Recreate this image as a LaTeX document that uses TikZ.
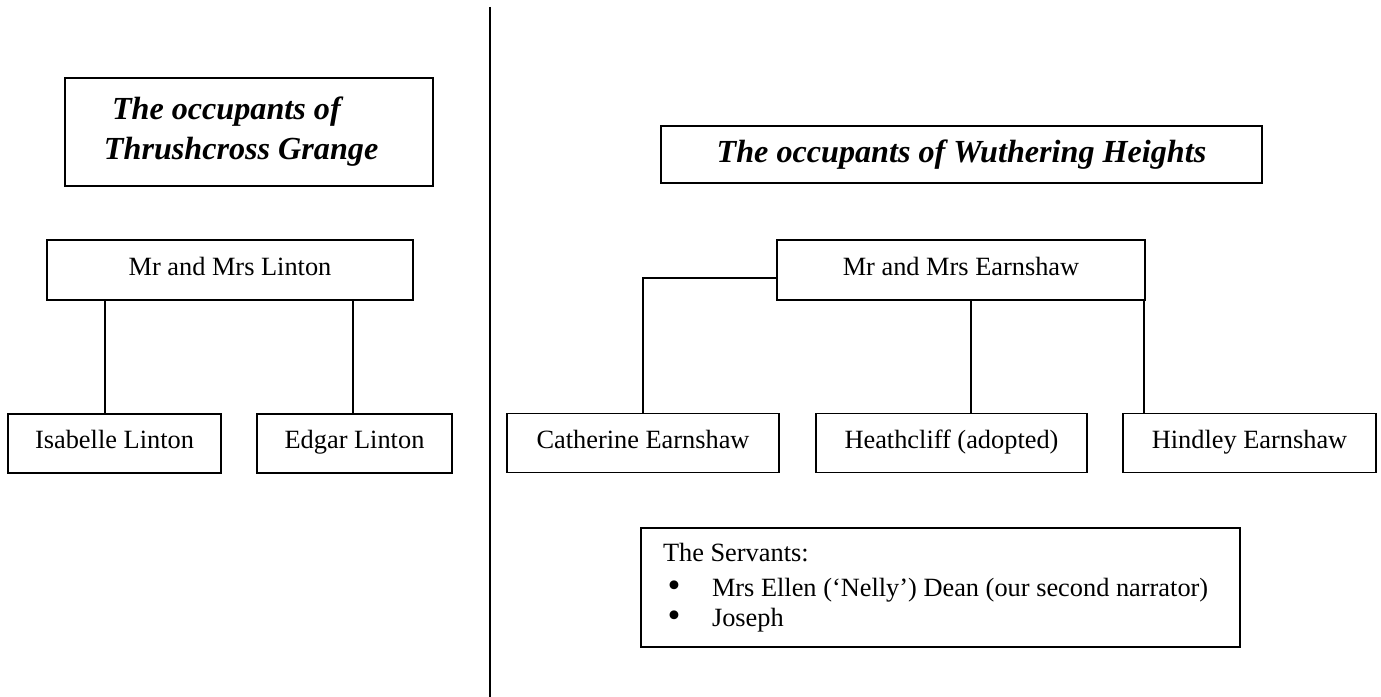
\documentclass[tikz,border=0pt]{standalone}
\usepackage{fontspec}
\setmainfont{Liberation Serif}
\tikzset{
  famgbox/.style={draw, line width=1.1pt, inner sep=0pt, text height=.8em, text depth=.2em, font=\fontsize{15}{18}\selectfont},
  titlebox/.style={draw, line width=1.1pt, inner sep=0pt, font=\fontsize{18.3}{22.8}\selectfont\bfseries\itshape},
  link/.style={line width=1.1pt}
}
\newcommand\servbullet{\makebox[9.8mm][l]{\hspace{0.9mm}\smash{\raisebox{-0.3mm}{\scalebox{1.4}{\textbullet}}}}}
\begin{document}
\begin{tikzpicture}[x=0.2mm,y=-0.2mm]
            \useasboundingbox (0,0) rectangle (1381,697) ;
\draw[link] (490,7) -- (490,697) ; % divider
\node[titlebox, inner xsep=7.8mm, text width=58mm, minimum height=21.6mm, align=flush left] (grange) at (249,132) {\spaceskip=0pt\hspace*{.25em}The occupants of\\Thrushcross Grange}; % grange
\node[titlebox, minimum width=120.2mm, minimum height=11.4mm] (heights) at (961.5,154.5) {The occupants of Wuthering Heights}; % heights
\node[famgbox, minimum width=73.2mm, minimum height=12mm] (linton) at (230,270) {Mr and Mrs Linton}; % linton
\node[famgbox, minimum width=42.6mm, minimum height=11.8mm] (isabelle) at (114.5,443.5) {Isabelle Linton}; % isabelle
\node[famgbox, minimum width=39mm, minimum height=11.8mm] (edgar) at (354.5,443.5) {Edgar Linton}; % edgar
\draw[link] ([xshift=-1.9mm]isabelle.north) -- ([xshift=-1.9mm]isabelle.north |- linton.south) ; % linton-isabelle
\draw[link] ([xshift=-0.3mm]edgar.north) -- ([xshift=-0.3mm]edgar.north |- linton.south) ; % linton-edgar
\node[famgbox, minimum width=73.6mm, minimum height=12mm] (earnshaw) at (961,270) {Mr and Mrs Earnshaw}; % earnshaw
\node[famgbox, minimum width=54.4mm, minimum height=11.8mm] (catherine) at (643,443) {Catherine Earnshaw}; % catherine
\node[famgbox, minimum width=54.2mm, minimum height=11.8mm] (heathcliff) at (951.5,443) {Heathcliff (adopted)}; % heathcliff
\node[famgbox, minimum width=50.6mm, minimum height=11.8mm] (hindley) at (1249.5,443) {Hindley Earnshaw}; % hindley
\draw[link] ([yshift=-1.6mm]earnshaw.west) -| (catherine.north) ; % earnshaw-catherine
\draw[link] ([xshift=2mm]earnshaw.south) -- ([xshift=2mm]earnshaw.south |- heathcliff.north) ; % earnshaw-heathcliff
\draw[link] ([xshift=-0.4mm]earnshaw.south east) -- ([xshift=-0.4mm]earnshaw.south east |- hindley.north) ; % earnshaw-hindley
\node[draw, line width=1.1pt, inner xsep=4.4mm, inner ysep=0pt, text width=111mm, minimum height=23.8mm, align=flush left, font=\fontsize{15}{17.1}\selectfont] (servants) at (940.5,587.5) {\spaceskip=0pt The Servants:\\[1mm]
\servbullet Mrs Ellen (‘Nelly’) Dean (our second narrator)\\
\servbullet Joseph}; % servants

            \end{tikzpicture}
\end{document}
